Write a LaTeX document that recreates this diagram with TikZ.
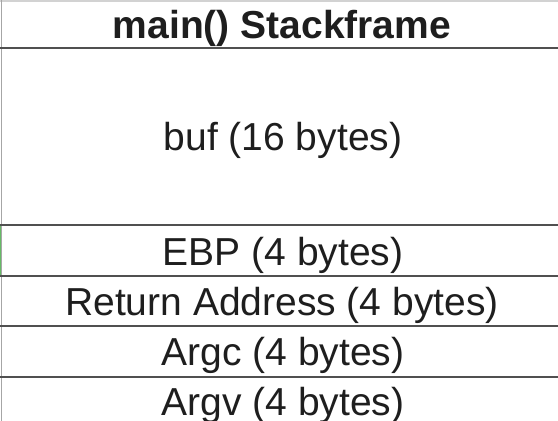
\documentclass[tikz,border=0pt]{standalone}
\usepackage{fontspec}
\setmainfont{Liberation Sans}
\usepackage{tikz}

\definecolor{rowline}{HTML}{505050}
\definecolor{celltext}{HTML}{1E1E1E}
\tikzset{cell/.style={anchor=base, text=celltext, inner sep=0pt, font=\fontsize{39}{47}\selectfont}}

\begin{document}
\begin{tikzpicture}[x=1pt, y=-1pt]
    \useasboundingbox (0,0) rectangle (558,421);
    \clip (0,0) rectangle (558,421);
    \fill[white] (0,0) rectangle (558,421);
    \draw[gray!35, line width=1.2pt] (0,1) -- (558,1);
    \draw[gray!70, line width=1pt] (1,0) -- (1,421);
    \draw[green!55!black!60, line width=0.8pt] (0.5,226) -- (0.5,276);
    \foreach \y in {48,225,276,326,377}
        \draw[rowline, line width=1.6pt] (0,\y) -- (558,\y);
    \node[cell, font=\fontsize{39}{47}\selectfont\bfseries] (head) at (282,38) {main() Stackframe};
    \node[cell] (buf) at (283,150) {buf (16 bytes)};
    \node[cell] (ebp) at (283,265) {EBP (4 bytes)};
    \node[cell] (ret) at (282,315) {Return Address (4 bytes)};
    \node[cell] (argc) at (283,365) {Argc (4 bytes)};
    \node[cell] (argv) at (283,415) {Argv (4 bytes)};
\end{tikzpicture}
\end{document}
